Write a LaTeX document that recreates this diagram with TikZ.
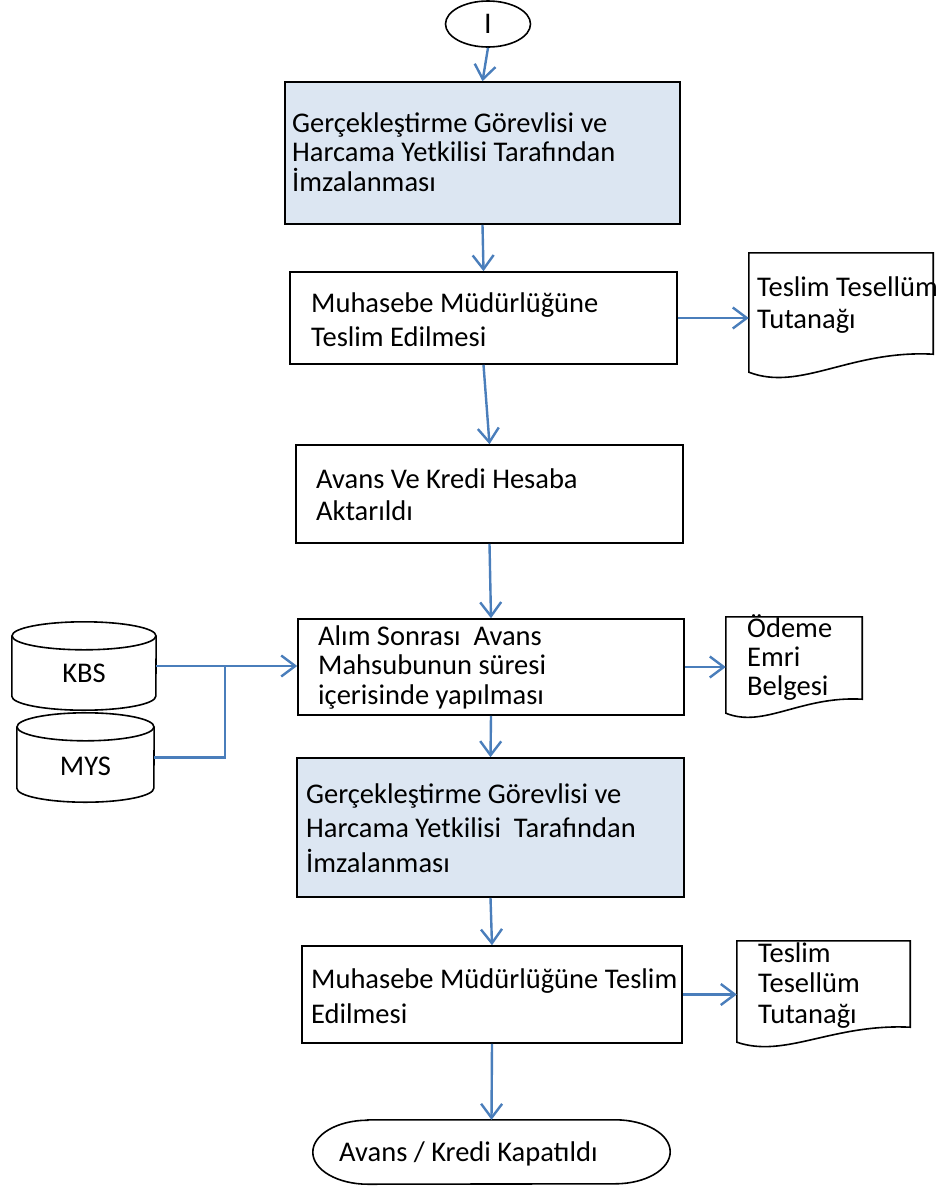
\documentclass[tikz,border=0pt]{standalone}
\usepackage{fontspec}
\setmainfont{Carlito}
\usetikzlibrary{arrows.meta,shapes.geometric,calc}
\definecolor{arr}{HTML}{4A7EBB}
\definecolor{shade}{HTML}{DCE6F2}
\def\myeol{\egroup\hbox\bgroup}
\newcommand\mylines[2]{\vtop{\fontsize{28.5}{#1}\selectfont\lineskiplimit=-1000pt\relax\let\\\myeol\hbox\bgroup#2\egroup}}
\tikzset{
  bd/.style={draw=black, line width=1.6pt},
  box/.style={bd, rectangle, inner sep=0pt},
  sbox/.style={box, fill=shade},
  ghost/.style={rectangle, inner sep=0pt, draw=none},
  txt/.style={anchor=base west, inner sep=0pt},
  ctxt/.style={anchor=base, inner sep=0pt, font=\fontsize{28.5}{30}\selectfont},
  conn/.style={draw=arr, line width=2.4pt, -{Straight Barb[length=14pt,width=21pt]}},
  line/.style={draw=arr, line width=2.4pt},
}
\newcommand\docshape[2]{%
  \draw[bd] (#1.north west) -- (#1.north east) -- (#1.south east)
    .. controls ($(#1.south west)!0.55!(#1.south east)+(0,{-0.25*#2})$)
    and ($(#1.south west)!0.28!(#1.south east)+(0,{2.1*#2})$)
    .. ($(#1.south west)+(0,#2)$) -- cycle;}
\newcommand\cyl[2]{%
  \draw[bd] ($(#1.north west)+(0,14)$) -- ($(#1.south west)+(0,-14)$)
    arc[start angle=180,end angle=360,x radius=#2pt,y radius=14pt]
    -- ($(#1.north east)+(0,14)$);
  \draw[bd] ($(#1.north)+(0,14)$) ellipse[x radius=#2pt,y radius=14pt];}
\begin{document}
\begin{tikzpicture}[x=1pt,y=-1pt]
\useasboundingbox[fill=white] (0,0) rectangle (936,1187);

% start
\node[ellipse, bd, minimum width=85pt, minimum height=46pt, inner sep=0pt,
  font=\fontsize{30}{30}\selectfont] (st) at (488,24) {I};

% boxes
\node[sbox, minimum width=395pt, minimum height=142pt] (b1) at (482.5,153) {};
\node[box, minimum width=387pt, minimum height=92pt] (b2) at (483.5,318) {};
\node[box, minimum width=387pt, minimum height=98pt] (b3) at (489.5,494) {};
\node[box, minimum width=386pt, minimum height=96pt] (b4) at (491,667) {};
\node[sbox, minimum width=387pt, minimum height=139pt] (b5) at (490.5,827.5) {};
\node[box, minimum width=380pt, minimum height=97pt] (b6) at (492,994.5) {};

% box texts
\node[txt] (t1) at (292,132) {\mylines{29.5}{Gerçekleştirme Görevlisi ve\\Harcama Yetkilisi Tarafından\\İmzalanması}};
\node[txt] (t2) at (311,312) {\mylines{34}{Muhasebe Müdürlüğüne\\Teslim Edilmesi}};
\node[txt] (t3) at (316,488) {\mylines{32}{Avans Ve Kredi Hesaba\\Aktarıldı}};
\node[txt] (t4) at (318,645) {\mylines{29.5}{Alım Sonrası~ Avans\\Mahsubunun süresi\\içerisinde yapılması}};
\node[txt] (t5) at (306,803) {\mylines{34.5}{Gerçekleştirme Görevlisi ve\\Harcama Yetkilisi~ Tarafından\\İmzalanması}};
\node[txt] (t6) at (311,988) {\mylines{35}{Muhasebe Müdürlüğüne Teslim\\Edilmesi}};

% documents
\node[ghost, minimum width=184pt, minimum height=101pt] (d1) at (841,303.5) {};
\docshape{d1}{18}
\node[txt] (td1) at (757,296) {\mylines{32}{Teslim Tesellüm\\Tutanağı}};
\node[ghost, minimum width=136pt, minimum height=82pt] (d2) at (794,658) {};
\docshape{d2}{14}
\node[txt] (td2) at (747,637) {\mylines{29}{Ödeme\\Emri\\Belgesi}};
\node[ghost, minimum width=173pt, minimum height=86pt] (d3) at (823.5,984) {};
\docshape{d3}{15}
\node[txt] (td3) at (758,962) {\mylines{30.5}{Teslim\\Tesellüm\\Tutanağı}};

% databases
\node[ghost, minimum width=144pt, minimum height=88pt] (kbs) at (84,666) {};
\cyl{kbs}{72}
\node[ctxt] (tk) at (84,682) {KBS};
\node[ghost, minimum width=137pt, minimum height=89pt] (mys) at (85.5,757.5) {};
\cyl{mys}{68.5}
\node[ctxt] (tm) at (85.5,775) {MYS};

% end
\node[ghost, minimum width=357pt, minimum height=64pt] (endn) at (491.5,1152) {};
\draw[bd] ($(endn.north west)+(55,0)$) -- ($(endn.north east)+(-55,0)$)
  arc[start angle=90,end angle=-90,x radius=55pt,y radius=32pt]
  -- ($(endn.south west)+(55,0)$)
  arc[start angle=270,end angle=90,x radius=55pt,y radius=32pt] -- cycle;
\node[txt, font=\fontsize{28.5}{30}\selectfont] (te) at (339,1161) {Avans / Kredi Kapatıldı};

% connectors
\draw[conn] (st.south) -- (b1.north);
\draw[conn] (b1.south) -- (b2.north);
\draw[conn] (b2.south) -- (b3.north);
\draw[conn] (b3.south) -- (b4.north);
\draw[conn] (b4.south) -- (b5.north);
\draw[conn] (b5.south) -- (b6.north);
\draw[conn] (b6.south) -- (endn.north);
\draw[conn] (b2.east) -- (b2.east -| d1.west);
\draw[conn] (b4.east) -- (b4.east -| d2.west);
\draw[conn] (b6.east) -- (b6.east -| d3.west);
\coordinate (j) at (225,666);
\draw[conn] (kbs.east) -- (kbs.east -| b4.west);
\draw[line] (mys.east) -| (j);
\end{tikzpicture}
\end{document}
